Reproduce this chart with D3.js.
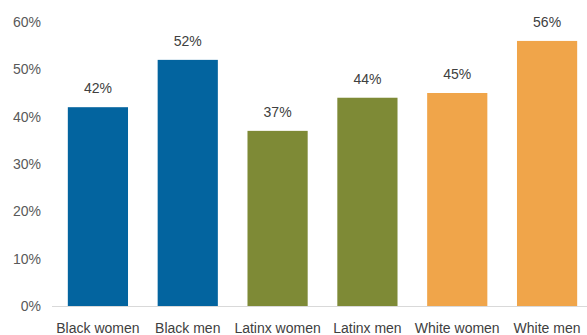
<!DOCTYPE html>
<html>
<head>
<meta charset="utf-8">
<script src="https://cdn.jsdelivr.net/npm/d3@7"></script>
<style>
  html, body { margin: 0; padding: 0; background: #fff; }
  svg text { font-family: "Liberation Sans Narrow", "Arial Narrow", "Liberation Sans", sans-serif; fill: #595959; }
</style>
</head>
<body>
<div id="chart"></div>
<script>
const categories = ["Black women", "Black men", "Latinx women", "Latinx men", "White women", "White men"];
const values = [42, 52, 37, 44, 45, 56];
const groups = ["black", "black", "latinx", "latinx", "white", "white"];
const yTicks = [0, 10, 20, 30, 40, 50, 60];

const WIDTH = 587;
const HEIGHT = 335;
const COLORS = { black: "#03649f", latinx: "#7e8a36", white: "#f0a54a" };

const svg = d3.select("#chart").append("svg")
  .attr("width", WIDTH)
  .attr("height", HEIGHT);

const x = d3.scaleBand().domain(categories).range([53, 592]).paddingInner(0.33).paddingOuter(0.165);
const y = d3.scaleLinear().domain([0, 60]).range([306, 22]);

// y axis labels
svg.append("g")
  .selectAll("text")
  .data(yTicks)
  .join("text")
  .attr("x", 41)
  .attr("y", (d) => y(d))
  .attr("dy", "0.35em")
  .attr("text-anchor", "end")
  .style("font-size", "14px")
  .text((d) => `${d}%`);

// bars
svg.append("g")
  .selectAll("rect")
  .data(values)
  .join("rect")
  .attr("x", (d, i) => x(categories[i]))
  .attr("y", (d) => y(d))
  .attr("width", x.bandwidth())
  .attr("height", (d) => y(0) - y(d))
  .attr("fill", (d, i) => COLORS[groups[i]]);

// baseline
svg.append("line")
  .attr("x1", 52)
  .attr("x2", WIDTH)
  .attr("y1", y(0) + 0.5)
  .attr("y2", y(0) + 0.5)
  .attr("stroke", "#d9d9d9")
  .attr("stroke-width", 1);

// value labels
svg.append("g")
  .selectAll("text")
  .data(values)
  .join("text")
  .attr("x", (d, i) => x(categories[i]) + x.bandwidth() / 2)
  .attr("y", (d) => y(d) - 19)
  .attr("dy", "0.35em")
  .attr("text-anchor", "middle")
  .style("font-size", "14px")
  .style("fill", "#404040")
  .text((d) => `${d}%`);

// category labels
svg.append("g")
  .selectAll("text")
  .data(categories)
  .join("text")
  .attr("x", (d) => x(d) + x.bandwidth() / 2)
  .attr("y", 328)
  .attr("dy", "0.35em")
  .attr("text-anchor", "middle")
  .style("font-size", "14px")
  .style("fill", "#404040")
  .text((d) => d);
</script>
</body>
</html>
